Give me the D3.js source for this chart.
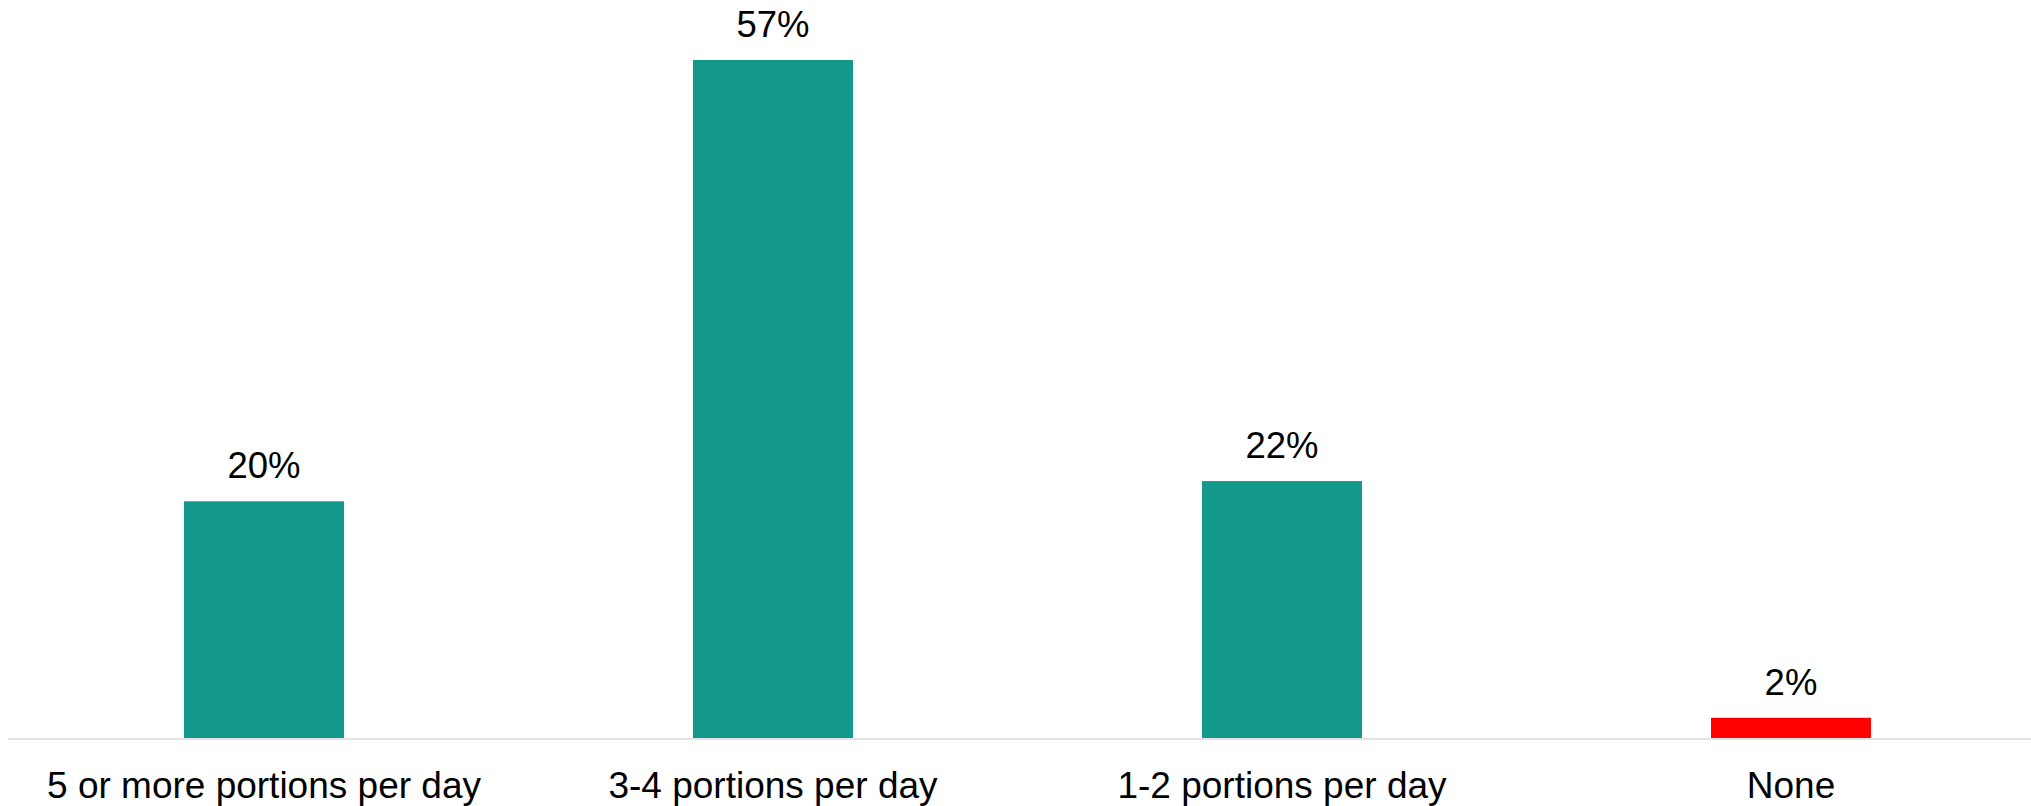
<!DOCTYPE html>
<html>
<head>
<meta charset="utf-8">
<script src="https://cdn.jsdelivr.net/npm/d3@7"></script>
<style>
  body { margin: 0; background: #fff; }
  text { font-family: "Liberation Sans", Arial, sans-serif; fill: #000; }
</style>
</head>
<body>
<svg id="chart"></svg>
<script>
const categories = ["5 or more portions per day", "3-4 portions per day", "1-2 portions per day", "None"];
const values = [19.9, 57, 21.6, 1.7];
const labels = ["20%", "57%", "22%", "2%"];
const barColors = ["#13998c", "#13998c", "#13998c", "#ff0000"];

const width = 2031;
const height = 806;
const baseline = 738;

const svg = d3.select("#chart")
    .attr("width", width)
    .attr("height", height);

const xScale = d3.scaleBand()
    .domain(categories)
    .range([9.5, 2045.5])
    .paddingInner(0.6857)
    .paddingOuter(0.34285);

const yScale = d3.scaleLinear()
    .domain([0, 60])
    .range([baseline, baseline - 60 * 11.895]);

// bars
svg.selectAll("rect.bar")
  .data(values)
  .join("rect")
    .attr("class", "bar")
    .attr("x", (d, i) => xScale(categories[i]))
    .attr("y", d => yScale(d))
    .attr("width", xScale.bandwidth())
    .attr("height", d => yScale(0) - yScale(d))
    .attr("fill", (d, i) => barColors[i]);

// axis line
svg.append("line")
    .attr("x1", 8)
    .attr("x2", width)
    .attr("y1", baseline + 1)
    .attr("y2", baseline + 1)
    .attr("stroke", "#e3e3e3")
    .attr("stroke-width", 2);

// value labels
svg.selectAll("text.value")
  .data(values)
  .join("text")
    .attr("class", "value")
    .attr("x", (d, i) => xScale(categories[i]) + xScale.bandwidth() / 2)
    .attr("y", d => yScale(d) - 23)
    .attr("text-anchor", "middle")
    .style("font-size", "36.5px")
    .text((d, i) => labels[i]);

// category labels
svg.selectAll("text.cat")
  .data(categories)
  .join("text")
    .attr("class", "cat")
    .attr("x", d => xScale(d) + xScale.bandwidth() / 2)
    .attr("y", 798)
    .attr("text-anchor", "middle")
    .style("font-size", "37px")
    .text(d => d);
</script>
</body>
</html>
